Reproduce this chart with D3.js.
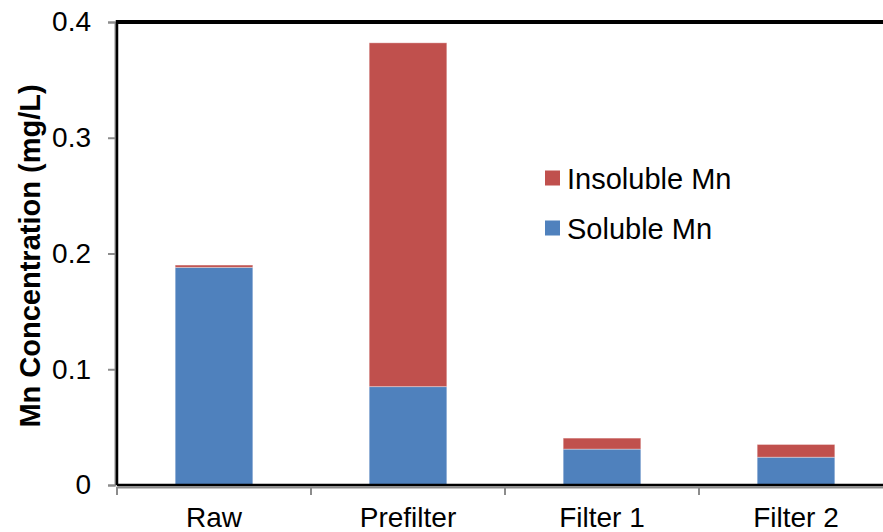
<!DOCTYPE html>
<html>
<head>
<meta charset="utf-8">
<script src="https://cdn.jsdelivr.net/npm/d3@7"></script>
<style>
  html, body { margin: 0; padding: 0; background: #fff; }
  svg { display: block; font-family: "Liberation Sans", Arial, sans-serif; }
</style>
</head>
<body>
<svg id="chart" width="883" height="532"></svg>
<script>
const categories = ["Raw", "Prefilter", "Filter 1", "Filter 2"];
const solubleMn = [0.188, 0.085, 0.031, 0.024];
const insolubleMn = [0.002, 0.297, 0.0095, 0.011];
const yTicks = [0, 0.1, 0.2, 0.3, 0.4];
const seriesNames = ["Soluble Mn", "Insoluble Mn"];
const seriesColors = ["#4F81BD", "#C0504D"];

const svg = d3.select("#chart");
const pLeft = 117, pRight = 893, pTop = 22, pBottom = 485;

const x = d3.scaleBand().domain(categories).range([pLeft, pRight])
  .paddingInner(0.6).paddingOuter(0.3);
const y = d3.scaleLinear().domain([0, 0.4]).range([pBottom, pTop]);

const rows = categories.map((c, i) => ({ cat: c, "Soluble Mn": solubleMn[i], "Insoluble Mn": insolubleMn[i] }));
const stacked = d3.stack().keys(seriesNames)(rows);

// bars
stacked.forEach((s, si) => {
  svg.append("g").selectAll("rect").data(s).join("rect")
    .attr("x", d => x(d.data.cat))
    .attr("width", x.bandwidth())
    .attr("y", d => y(d[1]))
    .attr("height", d => y(d[0]) - y(d[1]))
    .attr("fill", seriesColors[si])
    .attr("stroke", "rgba(255,255,255,0.35)")
    .attr("stroke-width", 1);
});

// y axis
const yAxis = svg.append("g").attr("transform", `translate(${pLeft - 2},0)`)
  .call(d3.axisLeft(y).tickValues(yTicks).tickFormat(d => d === 0 ? "0" : d3.format(".1f")(d)).tickSize(7).tickPadding(17));
yAxis.select(".domain").attr("stroke", "#8c8c8c").attr("stroke-width", 2);
yAxis.selectAll(".tick line").attr("stroke", "#8c8c8c").attr("stroke-width", 2);
yAxis.selectAll(".tick text").attr("font-size", 28).attr("fill", "#000")
  .attr("font-family", "Liberation Sans, Arial, sans-serif");

// x axis labels
const xAxis = svg.append("g").attr("transform", `translate(0,${pBottom + 2})`)
  .call(d3.axisBottom(x).tickSize(0).tickPadding(20));
xAxis.select(".domain").attr("stroke", "#8c8c8c").attr("stroke-width", 2);
xAxis.selectAll(".tick text").attr("font-size", 28).attr("fill", "#000")
  .attr("font-family", "Liberation Sans, Arial, sans-serif");

// x ticks at category boundaries
const step = x.step();
const boundaries = categories.map(c => x(c) - step * x.paddingOuter()).concat([pRight]);
svg.append("g").selectAll("line").data(boundaries).join("line")
  .attr("x1", d => d).attr("x2", d => d)
  .attr("y1", pBottom + 2).attr("y2", pBottom + 10)
  .attr("stroke", "#8c8c8c").attr("stroke-width", 2);

// plot frame (black)
svg.append("line").attr("x1", pLeft).attr("x2", 900).attr("y1", pTop).attr("y2", pTop)
  .attr("stroke", "#000").attr("stroke-width", 4);
svg.append("line").attr("x1", pLeft).attr("x2", pLeft).attr("y1", pTop - 2).attr("y2", pBottom)
  .attr("stroke", "#000").attr("stroke-width", 2.5);
svg.append("line").attr("x1", pLeft).attr("x2", 900).attr("y1", pBottom).attr("y2", pBottom)
  .attr("stroke", "#000").attr("stroke-width", 2.5);

// y title
svg.append("text")
  .attr("transform", `translate(40,256) rotate(-90)`)
  .attr("text-anchor", "middle")
  .attr("font-size", 29).attr("font-weight", "bold")
  .text("Mn Concentration (mg/L)");

// legend
const legendItems = [
  { name: "Insoluble Mn", color: seriesColors[1] },
  { name: "Soluble Mn", color: seriesColors[0] }
];
const lg = svg.append("g").attr("transform", "translate(545,178)");
legendItems.forEach((it, i) => {
  const g = lg.append("g").attr("transform", `translate(0,${i * 50})`);
  g.append("rect").attr("x", 0).attr("y", -7.5).attr("width", 15).attr("height", 15).attr("fill", it.color);
  g.append("text").attr("x", 22).attr("y", 10.5).attr("font-size", 29).text(it.name);
});
</script>
</body>
</html>
